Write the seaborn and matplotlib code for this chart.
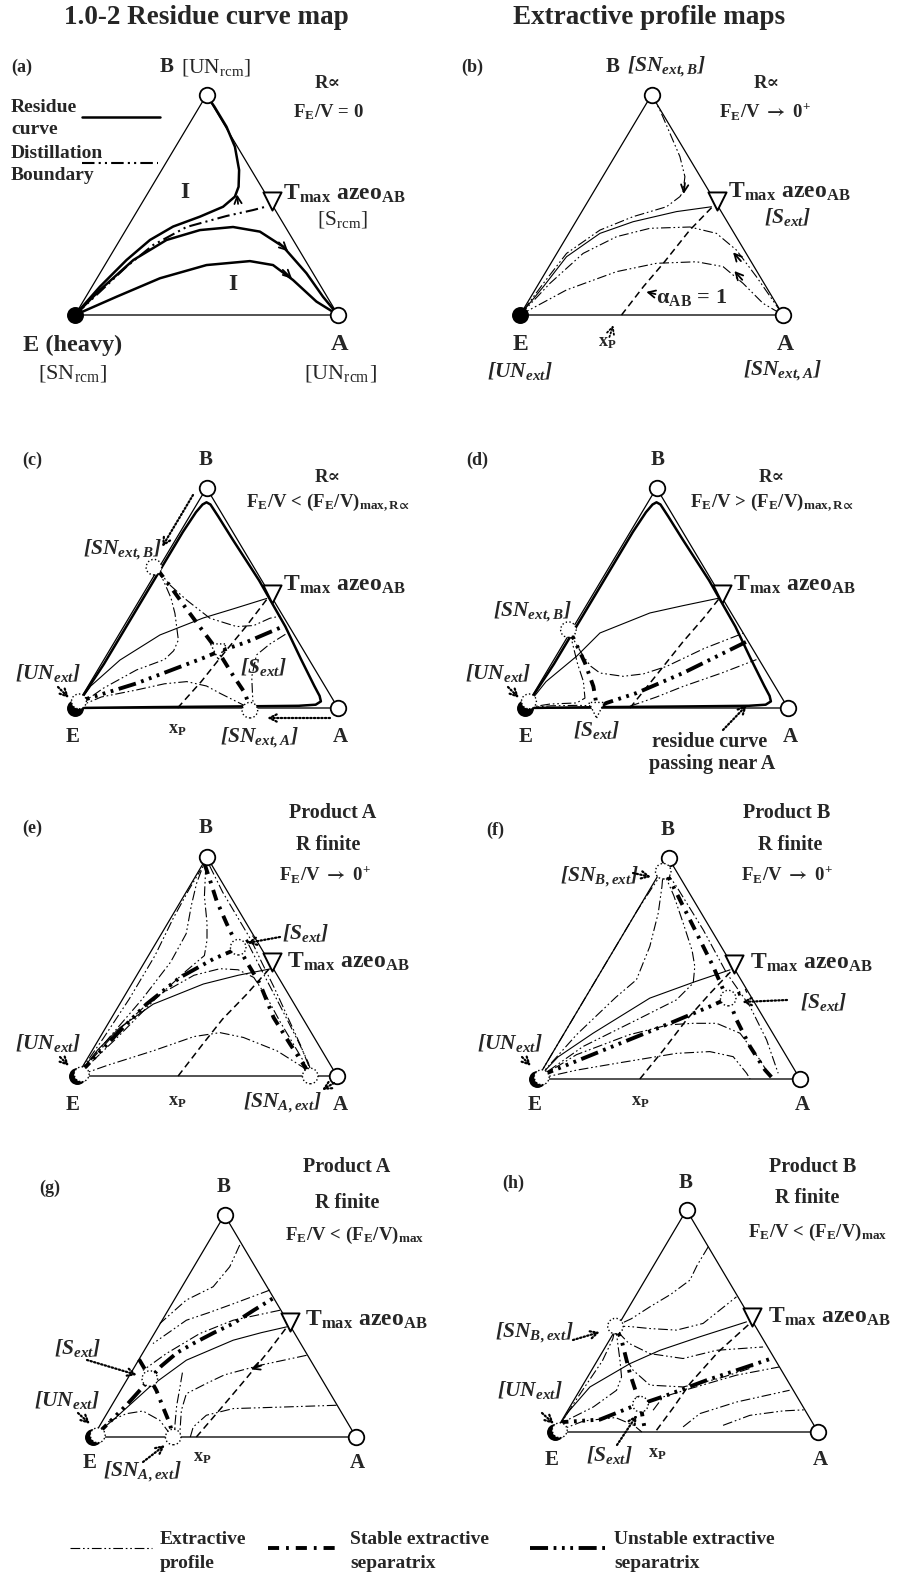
import matplotlib
matplotlib.use("Agg")
import matplotlib.pyplot as plt
import pandas as pd
import seaborn as sns

# ---------------------------------------------------------------------------
# Data.  Ternary diagram in triangle units:
# X = x_A + x_B/2 , Y = x_B   ->  E=(0,0), A=(1,0), B=(0.5,1)
# ---------------------------------------------------------------------------
TRIANGLE = [(0.0, 0.0), (1.0, 0.0), (0.5, 1.0), (0.0, 0.0)]
AZEO_AB = (0.75, 0.5)

# (a) residue curve map
A_RC_BEND = [(0.5, 1.0), (0.53, 0.947), (0.576, 0.856), (0.608, 0.765), (0.624, 0.659),
             (0.622, 0.583), (0.608, 0.538), (0.563, 0.492), (0.475, 0.447), (0.373, 0.402),
             (0.285, 0.341), (0.196, 0.25), (0.095, 0.129), (0.0, 0.0)]
A_RC_UPPER = [(0.0, 0.0), (0.095, 0.114), (0.222, 0.25), (0.348, 0.341), (0.475, 0.386),
              (0.601, 0.40), (0.703, 0.379), (0.791, 0.311), (0.88, 0.19), (0.943, 0.083), (1.0, 0.0)]
A_RC_LOWER = [(0.0, 0.0), (0.158, 0.083), (0.323, 0.167), (0.5, 0.227), (0.665, 0.245),
              (0.753, 0.227), (0.829, 0.159), (0.918, 0.061), (1.0, 0.0)]
A_BOUNDARY = [(0.0, 0.0), (0.095, 0.106), (0.196, 0.22), (0.297, 0.318), (0.424, 0.40),
              (0.576, 0.45), (0.677, 0.477), (0.734, 0.495)]

# (b)
B_P1 = [(0.5, 1.0), (0.532, 0.932), (0.57, 0.826), (0.608, 0.72), (0.627, 0.629), (0.62, 0.56),
        (0.608, 0.538), (0.557, 0.492), (0.43, 0.447), (0.304, 0.386), (0.177, 0.28),
        (0.089, 0.144), (0.0, 0.0)]
B_RB = [(0.0, 0.0), (0.089, 0.129), (0.177, 0.265), (0.304, 0.371), (0.43, 0.424),
        (0.595, 0.47), (0.728, 0.492)]
B_P2 = [(0.0, 0.0), (0.114, 0.144), (0.24, 0.28), (0.367, 0.356), (0.494, 0.394), (0.646, 0.40),
        (0.747, 0.371), (0.823, 0.295), (0.899, 0.174), (1.0, 0.0)]
B_P3 = [(0.0, 0.0), (0.177, 0.114), (0.367, 0.197), (0.519, 0.235), (0.671, 0.242),
        (0.772, 0.22), (0.848, 0.144), (0.924, 0.053), (1.0, 0.0)]
B_ALPHA = [(0.386, 0.0), (0.47, 0.13), (0.545, 0.235), (0.645, 0.385), (0.73, 0.49)]

# (c) and (d) share the residue curve passing near A
RC_LOOP = [(0.0, 0.0), (0.11, 0.2), (0.21, 0.4), (0.31, 0.6), (0.41, 0.8), (0.46, 0.89),
           (0.485, 0.925), (0.5, 0.935), (0.515, 0.925), (0.545, 0.87), (0.6, 0.765),
           (0.7, 0.58), (0.8, 0.37), (0.86, 0.22), (0.91, 0.1), (0.93, 0.055), (0.935, 0.03),
           (0.915, 0.015), (0.85, 0.01), (0.6, 0.007), (0.3, 0.004), (0.0, 0.0)]
C_RB = [(0.0, 0.0), (0.06, 0.1), (0.171, 0.218), (0.323, 0.332), (0.487, 0.409), (0.6, 0.45),
        (0.729, 0.498)]
C_STABLE = [(0.31, 0.635), (0.37, 0.54), (0.418, 0.46), (0.48, 0.36), (0.545, 0.256),
            (0.6, 0.15), (0.646, 0.068), (0.665, 0.0)]
C_UNSTABLE = [(0.0, 0.0), (0.03, 0.036), (0.234, 0.112), (0.487, 0.227), (0.545, 0.256),
              (0.653, 0.30), (0.79, 0.37)]
C_P1 = [(0.31, 0.635), (0.36, 0.56), (0.425, 0.49), (0.513, 0.408), (0.615, 0.37),
        (0.68, 0.375), (0.741, 0.408), (0.79, 0.42)]
C_P2 = [(0.31, 0.635), (0.336, 0.58), (0.365, 0.5), (0.38, 0.43), (0.393, 0.309),
        (0.375, 0.26), (0.34, 0.22), (0.234, 0.173), (0.108, 0.09), (0.0, 0.0)]
C_P3 = [(0.0, 0.0), (0.1, 0.05), (0.234, 0.082), (0.34, 0.11), (0.425, 0.12), (0.5, 0.1),
        (0.551, 0.067), (0.653, 0.006)]
C_P4 = [(0.80, 0.335), (0.74, 0.29), (0.69, 0.241), (0.672, 0.142), (0.675, 0.06), (0.678, 0.006)]
C_ALPHA = [(0.39, 0.0), (0.48, 0.12), (0.56, 0.24), (0.65, 0.37), (0.73, 0.495)]

# (d)
D_RB = [(0.0, 0.0), (0.08, 0.12), (0.196, 0.235), (0.285, 0.341), (0.475, 0.432), (0.6, 0.465),
        (0.74, 0.5)]
D_STABLE = [(0.165, 0.356), (0.184, 0.318), (0.228, 0.205), (0.26, 0.098), (0.272, 0.015)]
D_UNSTABLE = [(0.272, 0.0), (0.31, 0.023), (0.424, 0.068), (0.601, 0.159), (0.84, 0.30)]
D_P1 = [(0.165, 0.356), (0.19, 0.3), (0.222, 0.235), (0.25, 0.19), (0.285, 0.159), (0.373, 0.144),
        (0.45, 0.155), (0.538, 0.189), (0.68, 0.27), (0.83, 0.34)]
D_P2 = [(0.165, 0.356), (0.177, 0.311), (0.2, 0.2), (0.222, 0.121), (0.228, 0.045),
        (0.196, 0.023), (0.095, 0.018), (0.0, 0.0)]
D_P3 = [(0.0, 0.0), (0.1, 0.01), (0.2, 0.012), (0.272, 0.01)]
D_P4 = [(0.399, 0.008), (0.5, 0.05), (0.601, 0.098), (0.75, 0.16), (0.88, 0.22)]
D_ALPHA = [(0.399, 0.0), (0.5, 0.15), (0.6, 0.3), (0.68, 0.41), (0.74, 0.5)]

# (e)
E_RB = [(0.0, 0.0), (0.08, 0.12), (0.165, 0.221), (0.293, 0.328), (0.486, 0.42), (0.62, 0.46),
        (0.743, 0.489)]
E_UNSTABLE = [(0.0, 0.0), (0.04, 0.05), (0.165, 0.206), (0.267, 0.328), (0.396, 0.45),
              (0.524, 0.534), (0.614, 0.58), (0.65, 0.61), (0.68, 0.635)]
E_STABLE = [(0.49, 0.97), (0.51, 0.9), (0.537, 0.80), (0.576, 0.695), (0.61, 0.61), (0.63, 0.57),
            (0.653, 0.52), (0.704, 0.42), (0.756, 0.267), (0.82, 0.145), (0.871, 0.053),
            (0.897, 0.0)]
E_P1 = [(0.0, 0.0), (0.1, 0.17), (0.2, 0.35), (0.3, 0.55), (0.37, 0.72), (0.43, 0.85), (0.475, 0.94)]
E_P2 = [(0.0, 0.0), (0.12, 0.17), (0.25, 0.35), (0.36, 0.52), (0.42, 0.65), (0.44, 0.78),
        (0.46, 0.88), (0.485, 0.96)]
E_P3 = [(0.0, 0.0), (0.15, 0.17), (0.3, 0.35), (0.42, 0.48), (0.49, 0.55), (0.5, 0.62),
        (0.5, 0.7), (0.49, 0.82), (0.495, 0.95)]
E_P4 = [(0.0, 0.0), (0.15, 0.2), (0.3, 0.36), (0.45, 0.46), (0.55, 0.49), (0.62, 0.485),
        (0.68, 0.45), (0.73, 0.36), (0.78, 0.25), (0.84, 0.13), (0.88, 0.05), (0.897, 0.0)]
E_P5 = [(0.0, 0.0), (0.12, 0.05), (0.293, 0.115), (0.45, 0.18), (0.55, 0.198), (0.64, 0.176),
        (0.769, 0.115), (0.872, 0.038), (0.897, 0.0)]
E_P6 = [(0.51, 0.96), (0.56, 0.84), (0.62, 0.72), (0.67, 0.62), (0.71, 0.52), (0.76, 0.40),
        (0.81, 0.27), (0.86, 0.14), (0.89, 0.05), (0.9, 0.0)]
E_P7 = [(0.66, 0.6), (0.72, 0.46), (0.79, 0.30), (0.85, 0.16), (0.89, 0.06), (0.905, 0.0)]
E_ALPHA = [(0.389, 0.0), (0.48, 0.14), (0.56, 0.26), (0.65, 0.37), (0.74, 0.49)]

# (f)
F_RB = [(0.0, 0.0), (0.08, 0.1), (0.213, 0.207), (0.429, 0.366), (0.6, 0.44), (0.734, 0.494)]
F_UNSTABLE = [(0.0, 0.0), (0.036, 0.026), (0.239, 0.124), (0.505, 0.252), (0.657, 0.328),
              (0.727, 0.366), (0.797, 0.40)]
F_STABLE = [(0.48, 0.94), (0.505, 0.902), (0.556, 0.781), (0.607, 0.66), (0.67, 0.509),
            (0.714, 0.388), (0.727, 0.366), (0.759, 0.267), (0.81, 0.147), (0.867, 0.041),
            (0.898, 0.0)]
F_P1 = [(0.0, 0.0), (0.1, 0.2), (0.2, 0.4), (0.3, 0.6), (0.38, 0.76), (0.44, 0.87), (0.48, 0.94)]
F_P2 = [(0.0, 0.0), (0.15, 0.2), (0.3, 0.37), (0.378, 0.449), (0.429, 0.60), (0.461, 0.751),
        (0.475, 0.87), (0.48, 0.94)]
F_P3 = [(0.48, 0.94), (0.52, 0.83), (0.556, 0.705), (0.59, 0.58), (0.60, 0.509), (0.594, 0.434),
        (0.53, 0.358), (0.378, 0.267), (0.175, 0.147), (0.0, 0.0)]
F_P4 = [(0.0, 0.0), (0.15, 0.11), (0.35, 0.2), (0.5, 0.245), (0.594, 0.252), (0.683, 0.252),
        (0.772, 0.207), (0.848, 0.086), (0.886, 0.011)]
F_P5 = [(0.0, 0.0), (0.15, 0.04), (0.302, 0.071), (0.53, 0.116), (0.657, 0.124), (0.746, 0.101),
        (0.797, 0.026), (0.81, 0.0)]
F_P6 = [(0.49, 0.94), (0.53, 0.872), (0.632, 0.675), (0.721, 0.479), (0.81, 0.328),
        (0.873, 0.177), (0.917, 0.026)]
F_ALPHA = [(0.391, 0.0), (0.48, 0.13), (0.57, 0.27), (0.66, 0.39), (0.74, 0.49)]

# (g)
G_RB = [(0.0, 0.0), (0.089, 0.09), (0.216, 0.226), (0.355, 0.346), (0.533, 0.436), (0.64, 0.47),
        (0.736, 0.496)]
G_UNSTABLE = [(0.0, 0.0), (0.025, 0.023), (0.082, 0.09), (0.127, 0.143), (0.184, 0.218),
              (0.216, 0.263), (0.26, 0.32), (0.32, 0.38), (0.381, 0.421), (0.46, 0.47),
              (0.533, 0.511), (0.61, 0.57), (0.685, 0.625)]
G_STABLE = [(0.175, 0.35), (0.195, 0.31), (0.216, 0.263), (0.241, 0.21), (0.266, 0.135),
            (0.292, 0.06), (0.305, 0.0)]
G_P1 = [(0.558, 0.865), (0.52, 0.767), (0.457, 0.677), (0.355, 0.617), (0.254, 0.511)]
G_P2 = [(0.673, 0.662), (0.533, 0.60), (0.44, 0.56), (0.355, 0.526), (0.228, 0.421)]
G_P3 = [(0.711, 0.571), (0.533, 0.526), (0.406, 0.466), (0.279, 0.376), (0.19, 0.30)]
G_P4 = [(0.812, 0.368), (0.635, 0.323), (0.5, 0.28), (0.431, 0.241), (0.355, 0.195),
        (0.336, 0.12), (0.33, 0.015)]
G_P5 = [(0.34, 0.29), (0.33, 0.22), (0.318, 0.14), (0.312, 0.06), (0.31, 0.0)]
G_P6 = [(0.926, 0.143), (0.723, 0.135), (0.533, 0.128), (0.431, 0.098), (0.381, 0.045), (0.37, 0.0)]
G_P7 = [(0.0, 0.0), (0.06, 0.07), (0.127, 0.105), (0.19, 0.117), (0.254, 0.075), (0.292, 0.015)]
G_ALPHA = [(0.393, 0.0), (0.48, 0.12), (0.58, 0.26), (0.67, 0.39), (0.74, 0.5)]

# (h)
H_RB = [(0.0, 0.0), (0.05, 0.09), (0.133, 0.203), (0.285, 0.308), (0.399, 0.368), (0.551, 0.429),
        (0.728, 0.496)]
H_STABLE = [(0.23, 0.477), (0.253, 0.414), (0.285, 0.263), (0.31, 0.173), (0.325, 0.125),
            (0.333, 0.068), (0.342, 0.008)]
H_UNSTABLE = [(0.0, 0.0), (0.032, 0.045), (0.171, 0.056), (0.291, 0.113), (0.325, 0.125),
              (0.424, 0.165), (0.576, 0.233), (0.728, 0.293), (0.823, 0.331)]
H_P1 = [(0.583, 0.835), (0.54, 0.75), (0.513, 0.684), (0.44, 0.62), (0.361, 0.564), (0.29, 0.51),
        (0.23, 0.477)]
H_P2 = [(0.23, 0.477), (0.285, 0.475), (0.361, 0.466), (0.462, 0.459), (0.563, 0.489), (0.69, 0.609)]
H_P3 = [(0.24, 0.45), (0.28, 0.4), (0.361, 0.353), (0.487, 0.331), (0.614, 0.368), (0.791, 0.383)]
H_P4 = [(0.27, 0.33), (0.297, 0.278), (0.361, 0.211), (0.487, 0.203), (0.62, 0.24), (0.75, 0.29)]
H_P5 = [(0.373, 0.098), (0.411, 0.158), (0.513, 0.195), (0.69, 0.256), (0.853, 0.293)]
H_P6 = [(0.487, 0.023), (0.551, 0.083), (0.69, 0.135), (0.892, 0.188)]
H_P7 = [(0.639, 0.03), (0.741, 0.075), (0.867, 0.095), (0.95, 0.1)]
H_P8 = [(0.0, 0.0), (0.1, 0.18), (0.18, 0.32), (0.22, 0.42), (0.23, 0.477)]
H_P9 = [(0.23, 0.477), (0.247, 0.323), (0.253, 0.248), (0.234, 0.188), (0.146, 0.113), (0.032, 0.045)]
H_P10 = [(0.0, 0.0), (0.11, 0.05), (0.23, 0.065), (0.3, 0.03), (0.33, 0.0)]
H_ALPHA = [(0.386, 0.008), (0.45, 0.11), (0.513, 0.218), (0.62, 0.36), (0.741, 0.489)]

# singular points (dotted circles / triangles)
C_NODES = [(0.30, 0.64), (0.665, -0.01)]
C_SADDLE = [(0.545, 0.256)]
D_NODES = [(0.165, 0.356)]
D_SADDLE = [(0.272, -0.01)]
E_NODES = [(0.62, 0.588), (0.897, 0.0)]
F_NODES = [(0.48, 0.94), (0.727, 0.366)]
G_NODES = [(0.216, 0.263), (0.305, 0.0)]
H_NODES = [(0.23, 0.477), (0.325, 0.125)]

# ---------------------------------------------------------------------------
sns.set_theme(style="white")
plt.rcParams["font.family"] = ["Liberation Serif", "DejaVu Serif"]
plt.rcParams["font.weight"] = "bold"
plt.rcParams["mathtext.fontset"] = "stix"
plt.rcParams["lines.scale_dashes"] = False

FW, FH = 899, 1585
fig = plt.figure(figsize=(FW / 100, FH / 100), dpi=100)

STYLES = {
    "profile": (0.8, (0, (7, 2, 1.2, 2, 1.2, 2))),
    "stable": (2.8, (0, (8, 5, 2, 5))),
    "unstable": (2.8, (0, (13, 4, 2, 4, 2, 4, 2, 4))),
    "residue": (1.8, "-"),
    "boundary": (1.5, (0, (9, 3, 1.5, 3, 1.5, 3))),
    "rb": (0.8, "-"),
    "alpha": (1.1, (0, (5, 3))),
}

XL, XR, YB, YT = -0.3, 1.3, -0.3, 1.15


def panel_axes(ex, ey, w, h):
    left = (ex + XL * w) / FW
    bottom = 1 - (ey - YB * h) / FH
    ax = fig.add_axes([left, bottom, (XR - XL) * w / FW, (YT - YB) * h / FH])
    ax.set_xlim(XL, XR)
    ax.set_ylim(YB, YT)
    ax.axis("off")
    ax.patch.set_alpha(0)
    return ax


def curve(ax, pts, kind):
    df = pd.DataFrame(pts, columns=["X", "Y"])
    lw, ls = STYLES[kind]
    sns.lineplot(data=df, x="X", y="Y", sort=False, estimator=None, ax=ax, color="black",
                 linewidth=lw, linestyle=ls, legend=False, zorder=3)


def frame(ax, e_kind):
    df = pd.DataFrame(TRIANGLE, columns=["X", "Y"])
    sns.lineplot(data=df.iloc[1:], x="X", y="Y", sort=False, estimator=None, ax=ax,
                 color="black", linewidth=0.9, legend=False, zorder=2)
    sns.lineplot(data=df.iloc[:2], x="X", y="Y", sort=False, estimator=None, ax=ax,
                 color="#444444", linewidth=1.3, legend=False, zorder=2)
    ax.scatter([1.0, 0.5], [0.0, 1.0], s=125, facecolors="white", edgecolors="black",
               linewidths=1.3, zorder=6)
    ax.scatter([AZEO_AB[0]], [AZEO_AB[1] + 0.02], marker="v", s=170, facecolors="white",
               edgecolors="black", linewidths=1.4, zorder=6)
    ax.scatter([0.0], [0.0], s=125, color="black", zorder=6)
    if e_kind == "cd":
        ax.scatter([0.015], [0.03], s=115, facecolors="white", edgecolors="black",
                   linestyles=":", linewidths=1, zorder=7)
    elif e_kind == "efgh":
        ax.scatter([0.018], [0.008], s=115, facecolors="white", edgecolors="black",
                   linestyles=":", linewidths=1, zorder=7)


def nodes(ax, pts, marker="o"):
    ax.scatter([p[0] for p in pts], [p[1] for p in pts], s=125, marker=marker,
               facecolors="white", edgecolors="black", linestyles=":", linewidths=1, zorder=7)


def chevron(ax, tail, tip, style="-"):
    ax.annotate("", xy=tip, xytext=tail,
                arrowprops=dict(arrowstyle="->", lw=1.3, color="black", linestyle=style,
                                shrinkA=0, shrinkB=0, mutation_scale=13), zorder=8)


def make_overlay():
    ov = fig.add_axes([0, 0, 1, 1])
    ov.set_xlim(0, FW)
    ov.set_ylim(FH, 0)
    ov.axis("off")
    ov.patch.set_alpha(0)
    return ov


PANEL_POS = {
    "a": (75, 315, 263, 220), "b": (520, 315, 263, 220),
    "c": (75, 708, 263, 220), "d": (525, 708, 263, 220),
    "e": (77, 1076, 260, 219), "f": (537, 1079, 263, 221),
    "g": (93, 1437, 263, 222), "h": (555, 1432, 263, 222),
}

# ---- (a)
ax = panel_axes(*PANEL_POS["a"])
frame(ax, "a")
for pts in (A_RC_BEND, A_RC_UPPER, A_RC_LOWER):
    curve(ax, pts, "residue")
curve(ax, A_BOUNDARY, "boundary")
chevron(ax, (0.62, 0.505), (0.616, 0.548))
chevron(ax, (0.775, 0.33), (0.81, 0.29))
chevron(ax, (0.79, 0.205), (0.825, 0.165))

# ---- (b)
ax = panel_axes(*PANEL_POS["b"])
frame(ax, "b")
for pts in (B_P1, B_P2, B_P3):
    curve(ax, pts, "profile")
curve(ax, B_RB, "rb")
curve(ax, B_ALPHA, "alpha")
chevron(ax, (0.627, 0.60), (0.622, 0.55))
chevron(ax, (0.84, 0.245), (0.81, 0.285))
chevron(ax, (0.845, 0.16), (0.815, 0.2))
chevron(ax, (0.515, 0.095), (0.48, 0.105))
chevron(ax, (0.34, -0.1), (0.355, -0.045), ":")

# ---- (c)
ax = panel_axes(*PANEL_POS["c"])
frame(ax, "cd")
curve(ax, RC_LOOP, "residue")
curve(ax, C_RB, "rb")
for pts in (C_P1, C_P2, C_P3, C_P4):
    curve(ax, pts, "profile")
curve(ax, C_ALPHA, "alpha")
curve(ax, C_STABLE, "stable")
curve(ax, C_UNSTABLE, "unstable")
nodes(ax, C_NODES)
nodes(ax, C_SADDLE, "v")

# ---- (d)
ax = panel_axes(*PANEL_POS["d"])
frame(ax, "cd")
curve(ax, RC_LOOP, "residue")
curve(ax, D_RB, "rb")
for pts in (D_P1, D_P2, D_P3, D_P4):
    curve(ax, pts, "profile")
curve(ax, D_ALPHA, "alpha")
curve(ax, D_STABLE, "stable")
curve(ax, D_UNSTABLE, "unstable")
nodes(ax, D_NODES)
nodes(ax, D_SADDLE, "v")

# ---- (e)
ax = panel_axes(*PANEL_POS["e"])
frame(ax, "efgh")
curve(ax, E_RB, "rb")
for pts in (E_P1, E_P2, E_P3, E_P4, E_P5, E_P6, E_P7):
    curve(ax, pts, "profile")
curve(ax, E_ALPHA, "alpha")
curve(ax, E_STABLE, "stable")
curve(ax, E_UNSTABLE, "unstable")
nodes(ax, E_NODES)

# ---- (f)
ax = panel_axes(*PANEL_POS["f"])
frame(ax, "efgh")
curve(ax, F_RB, "rb")
for pts in (F_P1, F_P2, F_P3, F_P4, F_P5, F_P6):
    curve(ax, pts, "profile")
curve(ax, F_ALPHA, "alpha")
curve(ax, F_STABLE, "stable")
curve(ax, F_UNSTABLE, "unstable")
nodes(ax, F_NODES)

# ---- (g)
ax = panel_axes(*PANEL_POS["g"])
frame(ax, "efgh")
curve(ax, G_RB, "rb")
for pts in (G_P1, G_P2, G_P3, G_P4, G_P5, G_P6, G_P7):
    curve(ax, pts, "profile")
curve(ax, G_ALPHA, "alpha")
curve(ax, G_STABLE, "stable")
curve(ax, G_UNSTABLE, "unstable")
nodes(ax, G_NODES)
chevron(ax, (0.64, 0.322), (0.6, 0.305))

# ---- (h)
ax = panel_axes(*PANEL_POS["h"])
frame(ax, "efgh")
curve(ax, H_RB, "rb")
for pts in (H_P1, H_P2, H_P3, H_P4, H_P5, H_P6, H_P7, H_P8, H_P9, H_P10):
    curve(ax, pts, "profile")
curve(ax, H_ALPHA, "alpha")
curve(ax, H_STABLE, "stable")
curve(ax, H_UNSTABLE, "unstable")
nodes(ax, H_NODES)

# ---------------------------------------------------------------------------
ov = make_overlay()

SZ_LAB = 15.5     # italic bracket labels
SZ_V = 15         # vertex letters
SZ_T = 17         # T max azeo
SZ_P = 13         # (a) ... (h)
SZ_C = 13.5       # conditions
SZ_X = 13         # x_P


def T(x, y, s, size=13, ha="center", va="center", style="normal", weight="bold"):
    ov.text(x, y, s, fontsize=size, ha=ha, va=va, style=style, weight=weight)


def IT(x, y, s, size=SZ_LAB, ha="center"):
    T(x, y, s, size=size, ha=ha, style="italic")


def ptr(tail, tip):
    ov.annotate("", xy=tip, xytext=tail,
                arrowprops=dict(arrowstyle="->", lw=1.6, color="black", linestyle=":",
                                shrinkA=0, shrinkB=0, mutation_scale=13))


TMAX = r"T$_\mathdefault{max}$ azeo$_\mathdefault{AB}$"
FE0 = r"F$_\mathdefault{E}$/V $\rightarrow$ 0$^\mathdefault{+}$"
RINF = "R∝"

# headers
T(206, 17, "1.0-2 Residue curve map", size=19.5)
T(649, 17, "Extractive profile maps", size=19.5)

# (a)
T(22, 67, "(a)", size=SZ_P)
T(160, 67, "B", size=SZ_V, ha="left")
T(181, 67, r"[UN$_\mathdefault{rcm}$]", size=15.5, ha="left", weight="normal")
T(328, 83, RINF, size=SZ_C)
T(328, 112, r"F$_\mathdefault{E}$/V = 0", size=SZ_C)
for yy, s in ((107, "Residue"), (130, "curve"), (153, "Distillation"), (175, "Boundary")):
    T(11, yy, s, size=14, ha="left")
ov.plot([82, 160], [117, 117], color="black", lw=1.8)
ov.plot([82, 158], [163, 163], color="black", lw=1.5, ls=(0, (9, 3, 1.5, 3, 1.5, 3)))
T(185, 193, "I", size=17)
T(233, 285, "I", size=17)
T(283, 194, TMAX, size=SZ_T, ha="left")
T(343, 219, r"[S$_\mathdefault{rcm}$]", size=15.5, weight="normal")
T(73, 345, "E (heavy)", size=17.5)
T(73, 374, r"[SN$_\mathdefault{rcm}$]", size=16, weight="normal")
T(340, 345, "A", size=17.5)
T(340, 374, r"[UN$_\mathdefault{rcm}$]", size=16, weight="normal")

# (b)
T(472, 67, "(b)", size=SZ_P)
T(613, 67, "B", size=SZ_V)
IT(627, 67, r"[SN$_\mathdefault{ext,B}$]", ha="left")
T(767, 83, RINF, size=SZ_C)
T(765, 112, FE0, size=SZ_C)
T(728, 192, TMAX, size=SZ_T, ha="left")
IT(788, 217, r"[S$_\mathdefault{ext}$]")
T(520, 345, "E", size=17)
IT(520, 371, r"[UN$_\mathdefault{ext}$]")
T(785, 345, "A", size=17)
IT(783, 371, r"[SN$_\mathdefault{ext,A}$]")
T(607, 343, r"x$_\mathdefault{P}$", size=SZ_X)
T(656, 297, r"α$_\mathdefault{AB}$ = 1", size=16, ha="left")

# (c)
T(32, 460, "(c)", size=SZ_P)
T(206, 460, "B", size=SZ_V)
T(328, 477, RINF, size=SZ_C)
T(328, 503, r"F$_\mathdefault{E}$/V < (F$_\mathdefault{E}$/V)$_{\mathdefault{max,R}\!\propto}$", size=SZ_C)
IT(123, 550, r"[SN$_\mathdefault{ext,B}$]")
T(283, 585, TMAX, size=SZ_T, ha="left")
IT(48, 673, r"[UN$_\mathdefault{ext}$]")
IT(240, 667, r"[S$_\mathdefault{ext}$]", ha="left")
T(73, 737, "E", size=SZ_V)
T(177, 730, r"x$_\mathdefault{P}$", size=SZ_X)
IT(260, 738, r"[SN$_\mathdefault{ext,A}$]")
T(340, 737, "A", size=SZ_V)
ptr((193, 495), (162, 547))
ptr((58, 687), (69, 698))
ptr((330, 718), (267, 718))

# (d)
T(477, 460, "(d)", size=SZ_P)
T(658, 460, "B", size=SZ_V)
T(772, 477, RINF, size=SZ_C)
T(772, 503, r"F$_\mathdefault{E}$/V > (F$_\mathdefault{E}$/V)$_{\mathdefault{max,R}\!\propto}$", size=SZ_C)
T(733, 585, TMAX, size=SZ_T, ha="left")
IT(533, 612, r"[SN$_\mathdefault{ext,B}$]")
IT(498, 673, r"[UN$_\mathdefault{ext}$]")
T(526, 737, "E", size=SZ_V)
IT(597, 730, r"[S$_\mathdefault{ext}$]")
T(710, 742, "residue curve", size=14.5)
T(712, 764, "passing near A", size=14.5)
T(790, 737, "A", size=SZ_V)
ptr((508, 687), (519, 698))
ptr((723, 730), (747, 705))

# (e)
T(333, 813, "Product A", size=14.5)
T(32, 828, "(e)", size=SZ_P)
T(206, 828, "B", size=SZ_V)
T(328, 845, "R finite", size=14.5)
T(325, 875, FE0, size=SZ_C)
IT(282, 933, r"[S$_\mathdefault{ext}$]", ha="left")
T(287, 962, TMAX, size=SZ_T, ha="left")
IT(48, 1043, r"[UN$_\mathdefault{ext}$]")
T(73, 1105, "E", size=SZ_V)
T(177, 1102, r"x$_\mathdefault{P}$", size=SZ_X)
IT(283, 1103, r"[SN$_\mathdefault{A,ext}$]")
T(340, 1105, "A", size=SZ_V)
ptr((280, 937), (247, 943))
ptr((60, 1057), (69, 1066))
ptr((334, 1083), (322, 1090))

# (f)
T(787, 813, "Product B", size=14.5)
T(495, 830, "(f)", size=SZ_P)
T(668, 830, "B", size=SZ_V)
T(790, 845, "R finite", size=14.5)
IT(600, 877, r"[SN$_\mathdefault{B,ext}$]")
T(787, 875, FE0, size=SZ_C)
T(750, 963, TMAX, size=SZ_T, ha="left")
IT(800, 1002, r"[S$_\mathdefault{ext}$]", ha="left")
IT(510, 1043, r"[UN$_\mathdefault{ext}$]")
T(535, 1105, "E", size=SZ_V)
T(640, 1102, r"x$_\mathdefault{P}$", size=SZ_X)
T(802, 1105, "A", size=SZ_V)
ptr((633, 873), (651, 877))
ptr((787, 1000), (742, 1002))
ptr((522, 1057), (531, 1066))

# (g)
T(347, 1167, "Product A", size=14.5)
T(50, 1188, "(g)", size=SZ_P)
T(224, 1187, "B", size=SZ_V)
T(347, 1203, "R finite", size=14.5)
T(355, 1235, r"F$_\mathdefault{E}$/V < (F$_\mathdefault{E}$/V)$_\mathdefault{max}$", size=SZ_C)
T(305, 1320, TMAX, size=SZ_T, ha="left")
IT(78, 1348, r"[S$_\mathdefault{ext}$]")
IT(67, 1400, r"[UN$_\mathdefault{ext}$]")
T(90, 1463, "E", size=SZ_V)
IT(143, 1472, r"[SN$_\mathdefault{A,ext}$]")
T(202, 1457, r"x$_\mathdefault{P}$", size=SZ_X)
T(357, 1463, "A", size=SZ_V)
ptr((87, 1360), (137, 1375))
ptr((78, 1413), (90, 1424))
ptr((143, 1462), (165, 1445))

# (h)
T(813, 1167, "Product B", size=14.5)
T(513, 1183, "(h)", size=SZ_P)
T(686, 1183, "B", size=SZ_V)
T(807, 1198, "R finite", size=14.5)
T(818, 1232, r"F$_\mathdefault{E}$/V < (F$_\mathdefault{E}$/V)$_\mathdefault{max}$", size=SZ_C)
T(768, 1317, TMAX, size=SZ_T, ha="left")
IT(535, 1333, r"[SN$_\mathdefault{B,ext}$]")
IT(530, 1390, r"[UN$_\mathdefault{ext}$]")
T(552, 1460, "E", size=SZ_V)
IT(610, 1455, r"[S$_\mathdefault{ext}$]")
T(657, 1453, r"x$_\mathdefault{P}$", size=SZ_X)
T(820, 1460, "A", size=SZ_V)
ptr((573, 1340), (600, 1332))
ptr((542, 1413), (554, 1424))
ptr((617, 1445), (637, 1415))

# legend
ov.plot([70, 152], [1548, 1548], color="black", lw=0.8, ls=STYLES["profile"][1])
ov.plot([268, 340], [1548, 1548], color="black", lw=2.8, ls=STYLES["stable"][1])
ov.plot([530, 607], [1548, 1548], color="black", lw=2.8, ls=STYLES["unstable"][1])
T(160, 1540, "Extractive", size=14, ha="left")
T(160, 1563, "profile", size=14, ha="left")
T(350, 1540, "Stable extractive", size=14, ha="left")
T(350, 1563, "separatrix", size=14, ha="left")
T(614, 1540, "Unstable extractive", size=14, ha="left")
T(614, 1563, "separatrix", size=14, ha="left")

fig.savefig("out.png", dpi=100, facecolor="white")
